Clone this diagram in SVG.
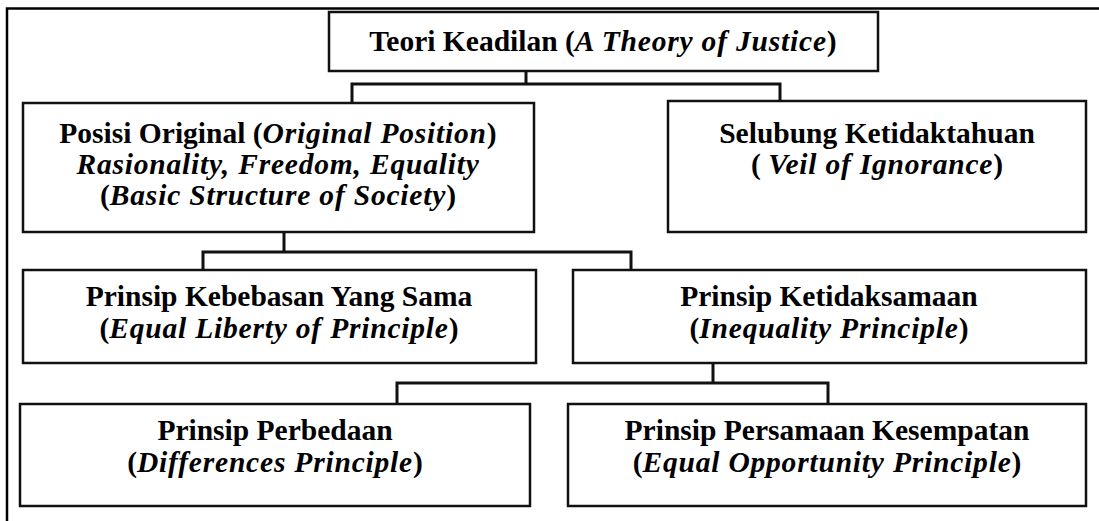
<svg xmlns="http://www.w3.org/2000/svg" width="1099" height="521" viewBox="0 0 1099 521">
<style>
.box{fill:#fff;stroke:#111;stroke-width:2.5}
.conn{fill:none;stroke:#111;stroke-width:3}
.frame{fill:none;stroke:#000;stroke-width:2.5}
text{font-family:"Liberation Serif","Times New Roman",serif;font-weight:bold;font-size:29.5px;fill:#000;text-anchor:middle}
.i{font-style:italic;letter-spacing:0.8px}
</style>
<rect width="1099" height="521" fill="#fff"/>
<path class="frame" d="M7,521 V8.5 H1099"/>
<g id="connectors">
<path class="conn" d="M526,71 V84 M352,103 V84 H780 V101"/>
<path class="conn" d="M284,232 V252 M203,270 V252 H631 V270"/>
<path class="conn" d="M713,363 V383 M397,404 V383 H828 V404"/>
</g>
<g id="n-teori">
<rect class="box" x="329" y="12" width="549" height="59"/>
<text x="603" y="51">Teori Keadilan (<tspan class="i">A Theory of Justice</tspan>)</text>
</g>
<g id="n-posisi">
<rect class="box" x="23" y="103" width="511" height="129"/>
<text x="278" y="143">Posisi Original (<tspan class="i">Original Position</tspan>)</text>
<text x="278" y="174" class="i">Rasionality, Freedom, Equality</text>
<text x="278" y="205">(<tspan class="i">Basic Structure of Society</tspan>)</text>
</g>
<g id="n-selubung">
<rect class="box" x="668" y="101" width="418" height="131"/>
<text x="877" y="143">Selubung Ketidaktahuan</text>
<text x="877" y="174">( <tspan class="i">Veil of Ignorance</tspan>)</text>
</g>
<g id="n-kebebasan">
<rect class="box" x="23" y="270" width="513" height="93"/>
<text x="279" y="306">Prinsip Kebebasan Yang Sama</text>
<text x="279" y="338">(<tspan class="i">Equal Liberty of Principle</tspan>)</text>
</g>
<g id="n-ketidaksamaan">
<rect class="box" x="573" y="270" width="513" height="93"/>
<text x="829" y="306">Prinsip Ketidaksamaan</text>
<text x="829" y="338">(<tspan class="i">Inequality Principle</tspan>)</text>
</g>
<g id="n-perbedaan">
<rect class="box" x="20" y="404" width="510" height="102"/>
<text x="275" y="440">Prinsip Perbedaan</text>
<text x="275" y="472">(<tspan class="i">Differences Principle</tspan>)</text>
</g>
<g id="n-persamaan">
<rect class="box" x="568" y="404" width="518" height="102"/>
<text x="827" y="440">Prinsip Persamaan Kesempatan</text>
<text x="827" y="472">(<tspan class="i">Equal Opportunity Principle</tspan>)</text>
</g>
</svg>
